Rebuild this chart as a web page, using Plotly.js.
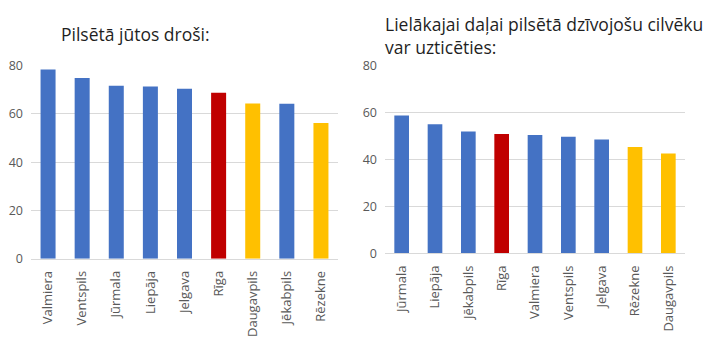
<!DOCTYPE html>
<html>
<head>
<meta charset="utf-8">
<script src="https://cdn.plot.ly/plotly-3.0.1.min.js"></script>
<style>html,body{margin:0;padding:0;background:#fff;}#chart{width:720px;height:350px;}</style>
</head>
<body>
<div id="chart"></div>
<script>
// Left chart: "Pilsētā jūtos droši:"
const safeCities = ["Valmiera", "Ventspils", "Jūrmala", "Liepāja", "Jelgava", "Rīga", "Daugavpils", "Jēkabpils", "Rēzekne"];
const safeValues = [78.4, 74.9, 71.6, 71.3, 70.4, 68.7, 64.3, 64.2, 56.2];
const safeColors = ["#4472C4", "#4472C4", "#4472C4", "#4472C4", "#4472C4", "#C00000", "#FFC000", "#4472C4", "#FFC000"];

// Right chart: "Lielākajai daļai pilsētā dzīvojošu cilvēku var uzticēties:"
const trustCities = ["Jūrmala", "Liepāja", "Jēkabpils", "Rīga", "Valmiera", "Ventspils", "Jelgava", "Rēzekne", "Daugavpils"];
const trustValues = [58.6, 54.9, 51.8, 50.7, 50.3, 49.6, 48.4, 45.2, 42.5];
const trustColors = ["#4472C4", "#4472C4", "#4472C4", "#C00000", "#4472C4", "#4472C4", "#4472C4", "#FFC000", "#FFC000"];

const yTicks = [0, 20, 40, 60, 80];
const titleLeft = "Pilsētā jūtos droši:";
const titleRight = "Lielākajai daļai pilsētā dzīvojošu cilvēku<br>var uzticēties:";

const font = "Open Sans, Segoe UI, sans-serif";

const data = [
  {type: "bar", x: safeCities, y: safeValues, marker: {color: safeColors}, xaxis: "x", yaxis: "y", hoverinfo: "x+y"},
  {type: "bar", x: trustCities, y: trustValues, marker: {color: trustColors}, xaxis: "x2", yaxis: "y2", hoverinfo: "x+y"}
];

const yAxisBase = {
  range: [0, 80.4], tickvals: yTicks, ticktext: yTicks.map(String),
  showgrid: true, gridcolor: "#d9d9d9", gridwidth: 1, zeroline: false, showline: false,
  ticks: "", ticklabelstandoff: 7, tickfont: {family: font, size: 12.5, color: "#595959"}, fixedrange: true
};
const xAxisBase = {
  type: "category", tickangle: -90, showline: true, linecolor: "#d9d9d9", linewidth: 1,
  ticks: "", ticklabelstandoff: 6, tickfont: {family: font, size: 13, color: "#595959"}, fixedrange: true
};

const layout = {
  width: 720, height: 350,
  margin: {l: 0, r: 0, t: 0, b: 0},
  paper_bgcolor: "#fff", plot_bgcolor: "#fff",
  showlegend: false, bargap: 0.56,
  xaxis: Object.assign({}, xAxisBase, {domain: [31/720, 338/720], anchor: "y"}),
  yaxis: Object.assign({}, yAxisBase, {domain: [(350-258.7)/350, (350-64.6)/350], anchor: "x"}),
  xaxis2: Object.assign({}, xAxisBase, {domain: [385/720, 685/720], anchor: "y2"}),
  yaxis2: Object.assign({}, yAxisBase, {domain: [(350-253.3)/350, (350-64.3)/350], anchor: "x2"}),
  annotations: [
    {text: titleLeft, xref: "paper", yref: "paper", x: 59/720, y: (350-20)/350, xanchor: "left", yanchor: "top",
     showarrow: false, align: "left", font: {family: font, size: 17.5, color: "#1f1f1f"}},
    {text: titleRight, xref: "paper", yref: "paper", x: 383/720, y: (350-10)/350, xanchor: "left", yanchor: "top",
     showarrow: false, align: "left", font: {family: font, size: 17.5, color: "#1f1f1f"}}
  ]
};

Plotly.newPlot("chart", data, layout, {displayModeBar: false, staticPlot: true});
</script>
</body>
</html>
